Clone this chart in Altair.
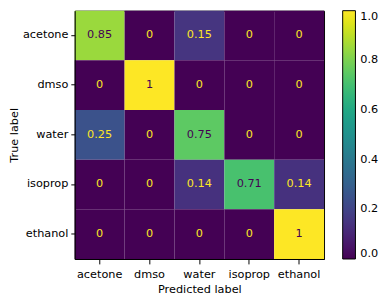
import altair as alt
import pandas as pd

labels = ["acetone", "dmso", "water", "isoprop", "ethanol"]
matrix = [
    [0.85, 0, 0.15, 0, 0],
    [0, 1, 0, 0, 0],
    [0.25, 0, 0.75, 0, 0],
    [0, 0, 0.14, 0.71, 0.14],
    [0, 0, 0, 0, 1],
]
value_text = [
    ["0.85", "0", "0.15", "0", "0"],
    ["0", "1", "0", "0", "0"],
    ["0.25", "0", "0.75", "0", "0"],
    ["0", "0", "0.14", "0.71", "0.14"],
    ["0", "0", "0", "0", "1"],
]

rows = []
for i, t in enumerate(labels):
    for j, p in enumerate(labels):
        rows.append({"true": t, "pred": p, "v": matrix[i][j], "txt": value_text[i][j]})
df = pd.DataFrame(rows)

FONT = "DejaVu Sans"
FS = 11.5

x = alt.X("pred:N", sort=labels, title="Predicted label",
          axis=alt.Axis(labelAngle=0, tickSize=5, tickColor="black", domainColor="black",
                        labelColor="black", titleColor="black", labelFontSize=FS,
                        titleFontSize=FS, titleFontWeight="normal", labelFont=FONT,
                        titleFont=FONT, titlePadding=4, labelPadding=5, grid=False))
y = alt.Y("true:N", sort=labels, title="True label",
          axis=alt.Axis(tickSize=4, tickColor="black", domainColor="black",
                        labelColor="black", titleColor="black", labelFontSize=FS,
                        titleFontSize=FS, titleFontWeight="normal", labelFont=FONT,
                        titleFont=FONT, titlePadding=3, labelPadding=3, grid=False))

rect = alt.Chart(df).mark_rect().encode(
    x=x, y=y,
    color=alt.Color("v:Q", scale=alt.Scale(scheme="viridis", domain=[0, 1]),
                    legend=alt.Legend(title=None, type="gradient", gradientLength=253,
                                      gradientThickness=13,
                                      values=[0, 0.2, 0.4, 0.6, 0.8, 1.0], format=".1f",
                                      labelFontSize=FS, labelFont=FONT, labelColor="black",
                                      gradientStrokeColor="black", gradientStrokeWidth=1,
                                      offset=19, labelOffset=5, direction="vertical")),
)

text = alt.Chart(df).mark_text(fontSize=FS, font=FONT).encode(
    x=alt.X("pred:N", sort=labels), y=alt.Y("true:N", sort=labels),
    text="txt:N",
    color=alt.condition(alt.datum.v > 0.5, alt.value("#440154"), alt.value("#fde725")),
)

chart = (rect + text).properties(
    width=254, height=253,
    padding={"left": 0, "top": 0, "right": 0, "bottom": 0},
).configure_view(stroke="black", strokeWidth=1).configure_scale(
    bandPaddingInner=0, bandPaddingOuter=0
)

chart.save("out.html", embed_options={"renderer": "svg", "actions": False})
